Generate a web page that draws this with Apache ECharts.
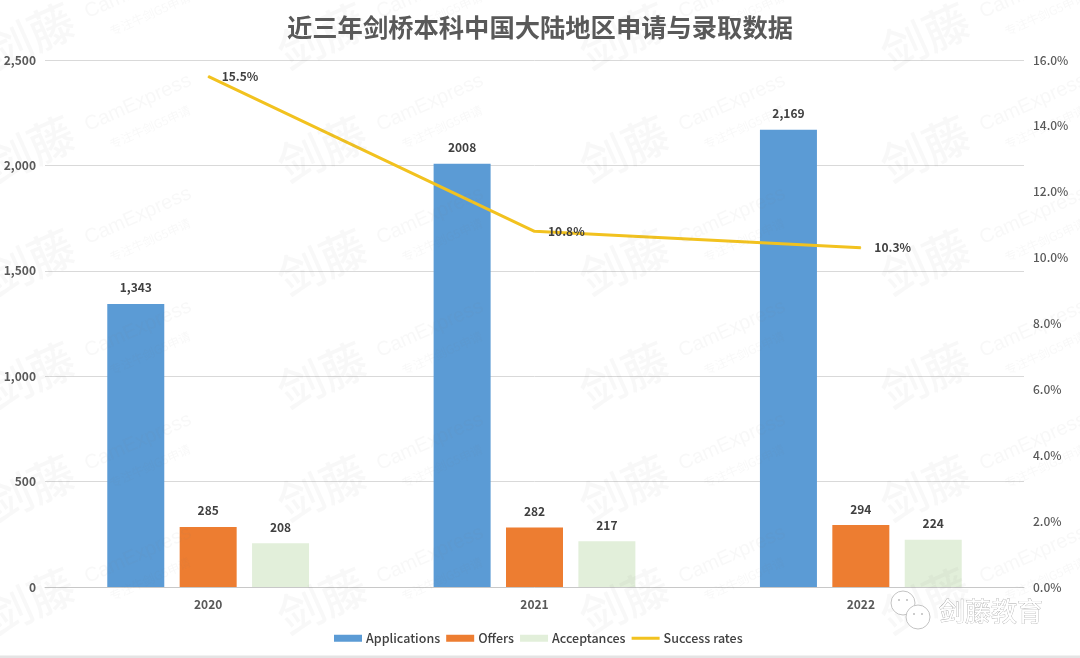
<!DOCTYPE html>
<html><head><meta charset="utf-8">
<style>html,body{margin:0;padding:0;background:#fff}#c{width:1080px;height:658px}</style>
<script src="https://cdn.jsdelivr.net/npm/echarts@6/dist/echarts.min.js"></script>
</head><body><div id="c"></div>
<script>
const years = ['2020','2021','2022'];
const applications = [1343,2008,2169];
const applicationLabels = ['1,343','2008','2,169'];
const offers = [285,282,294];
const acceptances = [208,217,224];
const successRates = [15.5,10.8,10.3];
const FONT = '"Noto Sans CJK SC","Noto Sans",sans-serif';

const marks = [];
[30,322,624,925].forEach(x=>{
  for(let i=-1;i<6;i++){
    const y=36+i*113;
    marks.push({type:'text',x:x,y:y,rotation:0.42,silent:true,z:50,
      style:{text:'剑藤',font:'500 46px '+FONT,fill:'rgba(120,120,120,0.05)',align:'center',verticalAlign:'middle'}});
    marks.push({type:'text',x:x+108,y:y-46,rotation:0.42,silent:true,z:50,
      style:{text:'CamExpress',font:'20px "Liberation Sans",sans-serif',fill:'rgba(120,120,120,0.055)',align:'center',verticalAlign:'middle'}});
    marks.push({type:'text',x:x+120,y:y-22,rotation:0.42,silent:true,z:50,
      style:{text:'专注牛剑G5申请',font:'12px '+FONT,fill:'rgba(120,120,120,0.055)',align:'center',verticalAlign:'middle'}});
  }
});
marks.push({type:'rect',shape:{x:0,y:655.5,width:1080,height:3},style:{fill:'#e4e4e4'},silent:true,z:60});
[[903,603,12],[918,617,12]].forEach(c=>{
  marks.push({type:'circle',shape:{cx:c[0],cy:c[1],r:c[2]},
    style:{fill:'#fff',stroke:'#c4c4c4',lineWidth:1},silent:true,z:60});
  marks.push({type:'circle',shape:{cx:c[0]-4,cy:c[1]-3,r:1},style:{fill:'#bbb'},silent:true,z:61});
  marks.push({type:'circle',shape:{cx:c[0]+4,cy:c[1]-3,r:1},style:{fill:'#bbb'},silent:true,z:61});
});
marks.push({type:'text',x:991,y:611,silent:true,z:60,
  style:{text:'剑藤教育',font:'26px '+FONT,fill:'#ffffff',stroke:'#a8a8a8',lineWidth:0.7,align:'center',verticalAlign:'middle'}});

const barLabel = {show:true,position:'top',distance:10,color:'#404040',fontFamily:FONT,fontSize:12,fontWeight:'bold'};
const chart = echarts.init(document.getElementById('c'),null,{renderer:'canvas'});
chart.setOption({
  animation:false,
  backgroundColor:'#fff',
  textStyle:{fontFamily:FONT},
  title:{text:'近三年剑桥本科中国大陆地区申请与录取数据',left:'center',top:10,
    textStyle:{fontFamily:FONT,fontSize:25.3,fontWeight:'bold',color:'#595959'}},
  grid:{left:45,right:56,top:60,bottom:71},
  legend:{left:329,top:627,itemWidth:28,itemHeight:7,itemGap:6,
    textStyle:{fontFamily:FONT,fontSize:12.5,fontWeight:500,color:'#404040',padding:[0,0,0,-1]},
    data:[{name:'Applications',icon:'rect'},{name:'Offers',icon:'rect'},{name:'Acceptances',icon:'rect'},
      {name:'Success rates',icon:'path://M0,0L0,0ZM0,2H28V5H0ZM0,7L0,7Z',itemStyle:{color:'#f2c21f'}}]},
  xAxis:{type:'category',data:years,
    axisTick:{show:false},axisLine:{lineStyle:{color:'#c8c8c8',width:1}},
    axisLabel:{margin:11,color:'#595959',fontFamily:FONT,fontSize:12,fontWeight:'bold'}},
  yAxis:[
    {type:'value',min:0,max:2500,interval:500,
      axisLine:{show:false},axisTick:{show:false},
      splitLine:{lineStyle:{color:'#d9d9d9',width:1}},
      axisLabel:{margin:9,color:'#595959',fontFamily:FONT,fontSize:12,fontWeight:'bold',
        formatter:v=>v.toLocaleString('en-US')}},
    {type:'value',min:0,max:16,interval:2,position:'right',
      axisLine:{show:false},axisTick:{show:false},splitLine:{show:false},
      axisLabel:{margin:9,color:'#595959',fontFamily:FONT,fontSize:12,fontWeight:500,
        formatter:v=>v.toFixed(1)+'%'}}
  ],
  series:[
    {name:'Applications',type:'bar',data:applications,barWidth:57,barGap:'27%',
      itemStyle:{color:'#5b9bd5'},
      label:{...barLabel,formatter:p=>applicationLabels[p.dataIndex]}},
    {name:'Offers',type:'bar',data:offers,barWidth:57,itemStyle:{color:'#ed7d31'},label:barLabel},
    {name:'Acceptances',type:'bar',data:acceptances,barWidth:57,itemStyle:{color:'#e2efda'},label:barLabel},
    {name:'Success rates',type:'line',yAxisIndex:1,data:successRates,
      showSymbol:true,symbol:'circle',symbolSize:1,lineStyle:{color:'#f2c21f',width:3},itemStyle:{color:'#f2c21f'},z:5,
      label:{show:true,position:'right',distance:13,color:'#404040',fontFamily:FONT,fontSize:12,fontWeight:'bold',
        formatter:p=>p.value.toFixed(1)+'%'}}
  ],
  graphic:marks
});
</script></body></html>
